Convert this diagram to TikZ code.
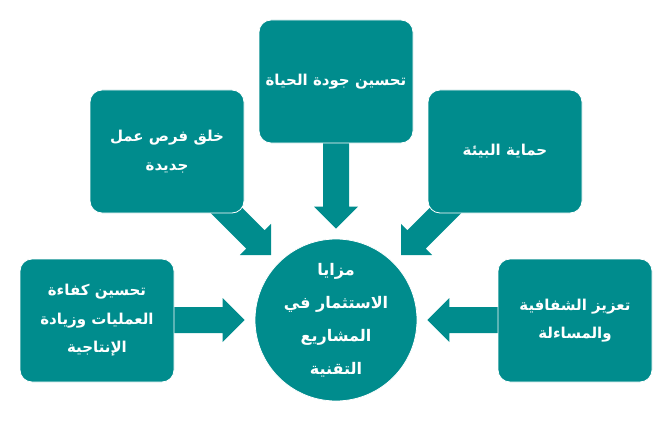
\documentclass[tikz,border=0pt]{standalone}
\usepackage{fontspec}
\TeXXeTstate=1
\newfontfamily\arabicfont[Script=Arabic]{DejaVu Sans}
\usetikzlibrary{calc,backgrounds}
\definecolor{tealx}{RGB}{0,140,141}
\tikzset{
  box/.style={rectangle, rounded corners=12pt, fill=tealx, draw=white, line width=0.8pt,
    minimum width=154pt, minimum height=123pt, inner sep=2pt, text=white, align=center,
    font=\arabicfont\bfseries\fontsize{15}{28.5}\selectfont},
  hub/.style={circle, fill=tealx, draw=white, line width=0.8pt, minimum size=162pt,
    inner sep=0pt, text=white, align=center,
    font=\arabicfont\bfseries\fontsize{16}{33}\selectfont},
  pics/barrow/.style={code={\fill[tealx] (0,0) -- (-22,22) -- (-22,13) -- (-#1,13)
    -- (-#1,-13) -- (-22,-13) -- (-22,-22) -- cycle;}}
}
\begin{document}
\begin{tikzpicture}[x=1pt,y=-1pt]
\useasboundingbox (0,0) rectangle (668,425);
\node[hub] (hub) at (336,320) {\beginR مزايا\endR\\\beginR الاستثمار في\endR\\\beginR المشاريع\endR\\\beginR التقنية\endR};
\node[box] (top) at (336,81.5) {\beginR تحسين جودة الحياة\endR};
\node[box] (ul) at (167,151.5) {\beginR خلق فرص عمل\endR\\\beginR جديدة\endR};
\node[box] (ur) at (505,151.5) {\beginR حماية البيئة\endR};
\node[box] (ll) at (97,320.5) {\beginR تحسين كفاءة\endR\\\beginR العمليات وزيادة\endR\\\beginR الإنتاجية\endR};
\node[box] (lr) at (575,320.5) {\beginR تعزيز الشفافية\endR\\\beginR والمساءلة\endR};
\begin{scope}[on background layer]
  \coordinate (tT) at ($(hub.north)+(0,-10)$);
  \coordinate (tL) at ($(hub.west)+(-10,0)$);
  \coordinate (tR) at ($(hub.east)+(10,0)$);
  \coordinate (tUL) at ($(hub.center)+(-65,-65)$);
  \coordinate (tUR) at ($(hub.center)+(65,-65)$);
  \pic[rotate=-90] at (tT) {barrow=90};
  \pic at (tL) {barrow=73};
  \pic[rotate=180] at (tR) {barrow=73};
  \pic[rotate=-45] at (tUL) {barrow=80};
  \pic[rotate=-135] at (tUR) {barrow=80};
\end{scope}
\end{tikzpicture}
\end{document}
